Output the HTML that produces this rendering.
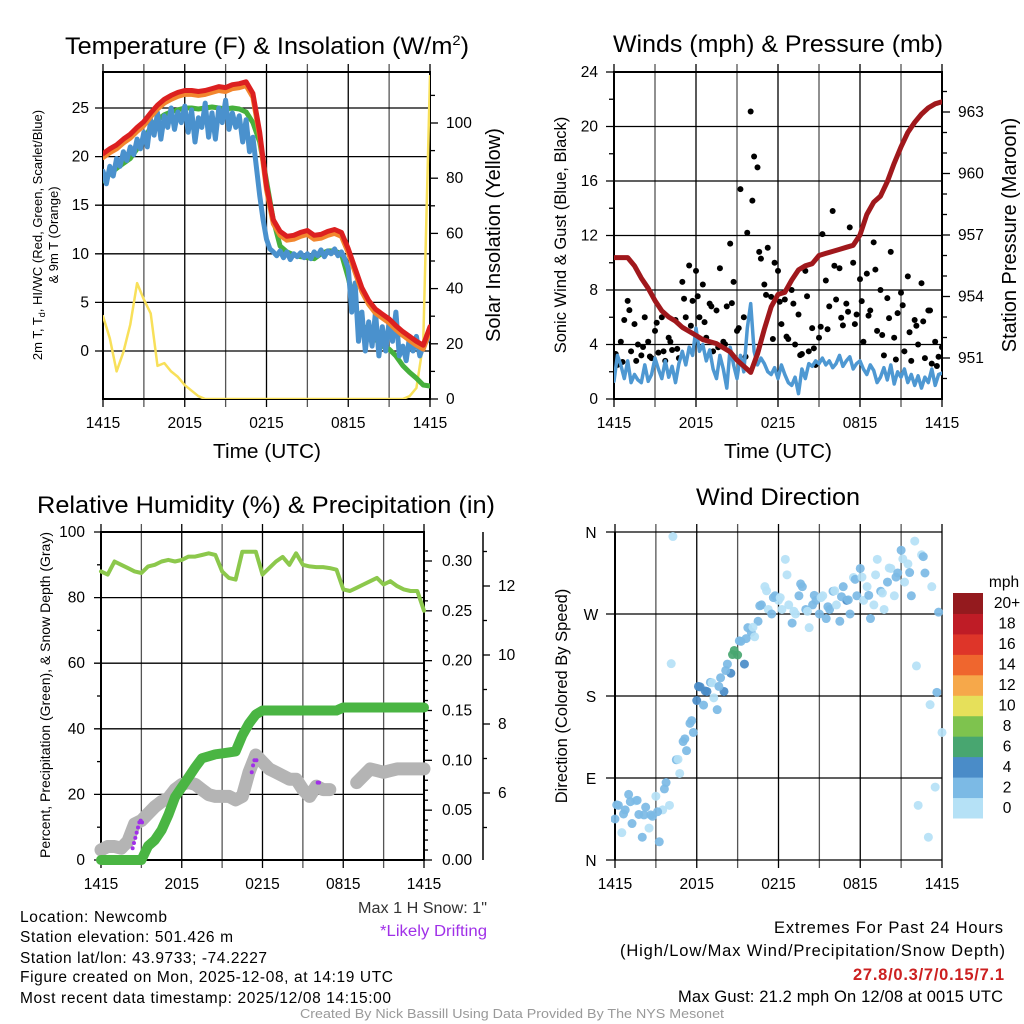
<!DOCTYPE html>
<html><head><meta charset="utf-8"><title>Mesonet Station Summary</title>
<style>
html,body{margin:0;padding:0;background:#fff;}
svg{display:block;font-family:"Liberation Sans",Arial,sans-serif;}
</style></head>
<body>
<svg id="chart" width="1024" height="1024" viewBox="0 0 1024 1024" xmlns="http://www.w3.org/2000/svg">
<rect x="0" y="0" width="1024" height="1024" fill="#fff"/>
<defs>
<clipPath id="cTL"><rect x="103" y="72" width="327" height="327"/></clipPath>
<clipPath id="cTR"><rect x="614" y="72" width="328" height="327"/></clipPath>
<clipPath id="cBL"><rect x="101" y="532" width="323" height="328"/></clipPath>
<clipPath id="cBR"><rect x="611" y="528" width="336" height="336"/></clipPath>
</defs>
<g id="gTL"></g>
<g id="gTR"></g>
<g id="gBL"></g>
<g id="gBR"></g>

<text x="267" y="54" font-size="24" text-anchor="middle" textLength="404" lengthAdjust="spacingAndGlyphs">Temperature (F) &amp; Insolation (W/m<tspan dy="-9" font-size="14">2</tspan><tspan dy="9">)</tspan></text>
<text x="778" y="52" font-size="24" text-anchor="middle" textLength="330" lengthAdjust="spacingAndGlyphs">Winds (mph) &amp; Pressure (mb)</text>
<text x="266" y="513" font-size="24" text-anchor="middle" textLength="458" lengthAdjust="spacingAndGlyphs">Relative Humidity (%) &amp; Precipitation (in)</text>
<text x="778" y="505" font-size="24" text-anchor="middle" textLength="164" lengthAdjust="spacingAndGlyphs">Wind Direction</text>

<text x="267" y="458" font-size="20" text-anchor="middle" textLength="108" lengthAdjust="spacingAndGlyphs">Time (UTC)</text>
<text x="778" y="458" font-size="20" text-anchor="middle" textLength="108" lengthAdjust="spacingAndGlyphs">Time (UTC)</text>

<text transform="translate(42,235) rotate(-90)" font-size="13" text-anchor="middle">2m T, T<tspan dy="3" font-size="9">d</tspan><tspan dy="-3">, HI/WC (Red, Green, Scarlet/Blue)</tspan></text>
<text transform="translate(58,235) rotate(-90)" font-size="13" text-anchor="middle">&amp; 9m T (Orange)</text>
<text transform="translate(500,235) rotate(-90)" font-size="20" text-anchor="middle">Solar Insolation (Yellow)</text>
<text transform="translate(566,235) rotate(-90)" font-size="16.5" text-anchor="middle">Sonic Wind &amp; Gust (Blue, Black)</text>
<text transform="translate(1016,235) rotate(-90)" font-size="20" text-anchor="middle">Station Pressure (Maroon)</text>
<text transform="translate(50,695) rotate(-90)" font-size="14" text-anchor="middle">Percent, Precipitation (Green), &amp; Snow Depth (Gray)</text>
<text transform="translate(567,696) rotate(-90)" font-size="16.5" text-anchor="middle">Direction (Colored By Speed)</text>

<g font-size="15.5" lengthAdjust="spacingAndGlyphs">
<text x="20" y="922" textLength="147">Location: Newcomb</text>
<text x="20" y="942" textLength="213">Station elevation: 501.426 m</text>
<text x="20" y="963" textLength="247">Station lat/lon: 43.9733; -74.2227</text>
<text x="20" y="982" textLength="373">Figure created on Mon, 2025-12-08, at 14:19 UTC</text>
<text x="20" y="1003" textLength="371">Most recent data timestamp: 2025/12/08 14:15:00</text>
</g>
<text x="358" y="913" font-size="15.5" textLength="129" lengthAdjust="spacingAndGlyphs" fill="#333">Max 1 H Snow: 1"</text>
<text x="380" y="936" font-size="15.5" textLength="107" lengthAdjust="spacingAndGlyphs" fill="#a030e8">*Likely Drifting</text>
<g font-size="16.5" lengthAdjust="spacingAndGlyphs">
<text x="774" y="933" textLength="229">Extremes For Past 24 Hours</text>
<text x="620" y="956" textLength="385">(High/Low/Max Wind/Precipitation/Snow Depth)</text>
<text x="853" y="980" textLength="151" font-weight="bold" fill="#cc2020">27.8/0.3/7/0.15/7.1</text>
<text x="678" y="1002" textLength="325">Max Gust: 21.2 mph On 12/08 at 0015 UTC</text>
</g>
<text x="300" y="1018" font-size="12.5" textLength="424" lengthAdjust="spacingAndGlyphs" fill="#999">Created By Nick Bassill Using Data Provided By The NYS Mesonet</text>
</svg>
<script>
// ---- data (step 0.5h unless noted) ----
const timeLabels = ["1415","2015","0215","0815","1415"];
const redT = [20.3,20.8,21.2,21.8,22.3,23,23.6,24.5,25.3,25.9,26.3,26.6,26.8,26.8,26.7,26.8,27,27.2,27.1,27.4,27.5,27.7,26.5,22.5,17,13.5,12.3,11.8,11.9,12.2,12.4,11.9,12,12.3,12.5,12.2,10.5,8.5,6.5,5.2,4.3,3.8,3.3,2.6,2,1.5,1,0.6,2.5];
const orangeT = [19.9,20.4,20.8,21.4,21.9,22.6,23.2,24.1,24.9,25.5,25.9,26.2,26.4,26.4,26.3,26.4,26.6,26.8,26.7,27,27.1,27.3,26.1,22.1,16.6,13.1,11.9,11.4,11.5,11.8,12,11.5,11.6,11.9,12.1,11.8,10.1,8.1,6.1,4.8,3.9,3.4,2.9,2.2,1.6,1.1,0.6,0.2,2.1];
const greenT = [17.5,18.2,18.8,19.3,19.8,20.8,21.8,23,23.8,24.3,24.6,24.8,25,25,24.9,25,25.1,25,24.9,25,24.9,24.6,23.5,21.5,17.5,13.5,10.8,10.2,9.9,9.7,9.6,9.5,10,10.3,10.3,10,7.5,4.5,2.8,1.8,1.2,0.5,0.2,-0.5,-1.5,-2.2,-2.8,-3.5,-3.6];
// step 0.25h
const blueT = [18.5,17.2,19,18,19.8,19,20.5,19.6,21,20.2,21.8,20.8,
 22.5,21,23.8,22.2,24.5,21.8,24.2,23,25,22.8,24.6,23.5,
 25.2,22.5,24.8,21.5,24,23,25.5,22,24.5,21.8,25,23.5,
 25.8,22.8,24.5,23,24.2,21.5,23.8,20.5,22,19,16,13.5,
 11.5,10.5,10.2,9.8,10.3,9.6,10.2,9.4,10,9.7,10.1,9.6,
 10,9.5,10.2,9.8,10.4,9.7,10.3,10,10.5,9.8,10.2,9.5,
 8.5,4,7,1,4,0,3,0.5,4,-0.5,2.5,0,
 3,1,4,-0.5,0.5,-1,1.5,0,1.5,-0.5,0.5,1,1.5];
const insolation = [30,22,10,17,27,42,36,31,12,13,10,8,5,3,1,0,0,0,0,0,0,0,0,0,0,0,0,0,0,0,0,0,0,0,0,0,0,0,0,0,0,0,0,0,0,1,4,20,117];
const tempTicks = [0,5,10,15,20,25];
const insolTicks = [0,20,40,60,80,100];
// winds step 0.25h
const windSpeed = [1.3,3.2,2.5,1.5,2.8,1.2,1.8,1.4,1.2,2.5,1.3,1.8,
 3,2.2,1.5,2.8,1.6,2.4,1.2,2.6,3.5,2.5,3.8,3.2,
 5.2,3.5,4,2.8,3.6,2.2,1.5,3.2,2.2,0.8,3.8,2.5,
 1.5,3.2,2,5.2,7,3.5,2.5,3,2.6,2,1.8,2.3,
 1.5,2.5,1.8,1.2,1,1.6,0.4,2.2,1.5,2.6,2.4,2.8,
 2.6,3,2.5,2.8,2.3,2.6,3.2,2.4,2.8,3.1,2.2,2.6,
 2.8,2.2,1.8,2.5,2.1,1.2,1.6,2.3,1.4,2.5,1.1,2,
 1.6,2.2,1.2,1.8,1,1.7,0.8,1.6,1.2,2.2,1,1.8,1.9];
const windGust = [3,2.5,4.2,5.8,7.2,3.5,5.5,4,3.2,6,4.2,3,
 5,3.4,6,2.8,4.5,3.6,5.8,3,8.6,6,9.8,7.2,
 9.4,6,8.4,4.5,7,3.5,6.5,9.6,4.2,6.8,11.4,8.6,
 5,15.4,6,12.2,21.1,17.8,17,10.3,8.4,11.1,7.5,10,
 9.4,5.5,7.3,4.4,8,4,6.2,3.3,9.4,3.5,5.2,2.5,
 4.5,12.1,8.7,6.8,13.8,7.3,9.6,5.4,7,12.6,10,6.2,
 8.8,4.2,9.2,6.5,11.5,5,8,3.2,7.4,10.8,4.5,6.3,
 7.8,3.5,9,2.8,5.8,4,8.5,3,6.5,2.6,4.2,3.1,3.8];
const gustOffsets = [0.5,-0.8,1.2,-1.5,0.9,-0.4,1.6,-1.1];
const pressure = [955.9,955.9,955.9,955.5,954.9,954.4,953.8,953.3,953.0,952.8,952.5,952.3,952.1,951.9,951.8,951.7,951.5,951.3,950.9,950.6,950.3,951.2,952.4,953.5,954.1,954.2,954.8,955.3,955.5,955.6,956.0,956.1,956.2,956.3,956.4,956.5,957.0,958.0,958.6,958.9,959.6,960.5,961.3,962.0,962.5,962.9,963.2,963.4,963.5];
const windTicks = [0,4,8,12,16,20,24];
const pressTicks = [951,954,957,960,963];
// humidity / precip / snow (step 0.5h)
const rh = [88,87,91,90,89,88,87.5,89.5,90,91,91.5,91,91.5,92.5,92.5,93,93.5,93,88,86,85.5,94,94,94,87,89,91,92.4,90,93.5,90,89.5,89.3,89.3,89,88.5,82.5,82,83,84,85,86,84,85,83.5,82.5,82,82,76];
const precip = [0,0,0,0,0,0,0,0.014,0.02,0.03,0.045,0.063,0.073,0.083,0.093,0.102,0.104,0.106,0.107,0.108,0.109,0.125,0.137,0.146,0.15,0.15,0.15,0.15,0.15,0.15,0.15,0.15,0.15,0.15,0.15,0.15,0.153,0.153,0.153,0.153,0.153,0.153,0.153,0.153,0.153,0.153,0.153,0.153,0.153];
const snow = [4.35,4.45,4.45,4.4,4.6,5.1,5.2,5.4,5.6,5.75,5.85,6.1,6.25,6.3,6.25,6.1,5.95,5.9,5.9,5.9,5.8,5.9,6.6,7.1,6.9,6.7,6.6,6.5,6.4,6.4,6.1,5.9,6.2,6.1,6.1,null,null,null,6.3,6.5,6.7,6.65,6.6,6.65,6.7,6.7,6.7,6.7,6.7];
const driftT = [2.35,2.45,2.55,2.65,2.75,2.85,2.95,3.05,11.2,11.3,11.4,11.55,16.1,16.2];
const driftS = [4.4,4.55,4.7,4.85,5.0,5.15,5.2,5.15,6.6,6.8,6.95,6.95,6.3,6.3];
const pctTicks = [0,20,40,60,80,100];
const precipTicks = ["0.00","0.05","0.10","0.15","0.20","0.25","0.30"];
const snowTicks = [6,8,10,12];
// wind direction (step 0.25h)
const windDir = [45,60,30,55,72,40,65,50,25,58,35,48,
 70,20,55,85,60,355,110,95,130,120,150,140,
 175,190,170,185,195,178,165,200,185,215,205,230,
 225,240,215,255,250,245,262,280,300,275,270,290,
 285,275,330,280,260,270,290,300,275,255,280,285,
 270,290,265,275,295,280,262,300,285,270,310,290,
 320,285,300,265,280,330,295,275,305,320,290,315,
 340,305,325,290,350,60,335,315,25,300,80,272,140];
const dirSpeed = [2.5,3,1.5,2.8,3.2,2.6,1.2,3,2.4,2.8,1.5,3,
 1,2.5,0.5,2.8,1.5,0.5,3,1.8,2.6,3,2.4,2.8,
 4.5,4.2,3,4.8,2.6,1.5,3.5,2.8,4.2,2.5,4.6,6.5,
 7,2.5,4.3,3,2.6,1.5,2.8,3,1,1.5,2.4,3,
 1.2,0.8,0.5,1.8,2.8,1,3,2.5,2.6,1.5,2.8,3,
 2.6,1.5,2.8,3,2.2,1,2.5,3,4.3,2.6,1.5,2.8,
 2.5,1.8,0.8,2.6,1.5,0.5,2.8,1.2,3.2,1.6,0.6,2.5,
 2.8,1.5,0.5,2.6,1.2,1.5,0.8,2.7,1.4,0.5,1.5,2.6,1];
const dirLabels = ["N","E","S","W","N"];
const speedLabels = ["0","2","4","6","8","10","12","14","16","18","20+"];
const speedColors = ["#b5e1f6","#7cbae5","#4a8cc8","#48a670","#7ec34e","#e6e05a","#f6a84a","#ef662e","#de3529","#bf1c26","#941a1e"];

// ---- scales ----
const xTL = h => 103 + h*327/24;
const yT = v => 351 - v*9.72;
const yI = v => 399 - v*2.76;
const xTR = h => 614 + h*328/24;
const yW = v => 399 - v*327/24;
const yP = p => 358 - (p-951)*20.5;
const xBL = h => 101 + h*323/24;
const yRH = v => 860 - v*3.28;
const yPr = v => 860 - v*996.7;
const ySn = s => 793 - (s-6)*34.5;
const xBR = h => 615 + h*327/24;
const yD = d => 860 - d*328/360;

const NS = "http://www.w3.org/2000/svg";
function mk(tag, attrs, parent){
  const e = document.createElementNS(NS, tag);
  for (const k in attrs) e.setAttribute(k, attrs[k]);
  parent.appendChild(e);
  return e;
}
function linePath(arr, step, fx, fy){
  let d = "", pen = false;
  arr.forEach((v,i)=>{
    if (v === null){ pen = false; return; }
    d += (pen ? "L" : "M") + fx(i*step).toFixed(1) + "," + fy(v).toFixed(1);
    pen = true;
  });
  return d;
}
const gTL = document.getElementById("gTL");
const gTR = document.getElementById("gTR");
const gBL = document.getElementById("gBL");
const gBR = document.getElementById("gBR");

function vgrid(g, fx, y0, y1, top){
  for (let k=0;k<=8;k++){
    const x = fx(k*3);
    const l = mk("line",{x1:x,y1:top?y0-8:y0,x2:x,y2:y1+8,stroke:k%2?"#555":"#000","stroke-width":1.3},g);
    
    
  }
  timeLabels.forEach((t,i)=>{
    const tx = mk("text",{x:fx(i*6),y:y1+29,"font-size":15.5,"text-anchor":"middle"},g);
    tx.textContent = t;
    
    
  });
}
function hline(g, x0, x1, y, color){
  const l = mk("line",{x1:x0,y1:y,x2:x1,y2:y,stroke:color||"#000","stroke-width":1.3},g);
  
  
}
function label(g, x, y, txt, anchor, size, name){
  const t = mk("text",{x:x,y:y,"font-size":size||15.5,"text-anchor":anchor||"start"},g);
  t.textContent = txt;
  
  
  return t;
}

// ================= TOP-LEFT =================
vgrid(gTL, xTL, 72, 399, true);
tempTicks.forEach(v=>{ hline(gTL, 95, 430, yT(v)); label(gTL, 89, yT(v)+5, String(v), "end", 15.5, "temp-tick-label"); });
insolTicks.forEach(v=>{ hline(gTL, 430, 438, yI(v)); label(gTL, 446, yI(v)+5, String(v), "start", 15.5, "insolation-tick-label"); });
[10,30,50,70,90,110].forEach(v=>{ hline(gTL, 430, 435, yI(v)); });
(function(){
  const f = mk("rect",{x:103,y:72,width:327,height:327,fill:"none",stroke:"#000","stroke-width":2},gTL);
  
  
  const c = mk("g",{"clip-path":"url(#cTL)",fill:"none","stroke-linejoin":"round","stroke-linecap":"round"},gTL);
  
  
  const p1 = mk("path",{d:linePath(insolation,0.5,xTL,yI),stroke:"#f8e05a","stroke-width":2.5},c);
  
  
  const p2 = mk("path",{d:linePath(greenT,0.5,xTL,yT),stroke:"#46b03c","stroke-width":5},c);
  
  
  const p3 = mk("path",{d:linePath(blueT,0.25,xTL,yT),stroke:"#4a91cd","stroke-width":5},c);
  
  
  const p4 = mk("path",{d:linePath(orangeT,0.5,xTL,yT),stroke:"#f2862e","stroke-width":5},c);
  
  
  const p5 = mk("path",{d:linePath(redT,0.5,xTL,yT),stroke:"#dc2020","stroke-width":5},c);
  
  
})();

// ================= TOP-RIGHT =================
vgrid(gTR, xTR, 72, 399, true);
windTicks.forEach(v=>{ hline(gTR, 606, 942, yW(v)); label(gTR, 598, yW(v)+5, String(v), "end", 15.5, "wind-tick-label"); });
[2,6,10,14,18,22].forEach(v=>{ hline(gTR, 609, 614, yW(v)); });
pressTicks.forEach(v=>{ hline(gTR, 942, 950, yP(v)); label(gTR, 958, yP(v)+5, String(v), "start", 15.5, "pressure-tick-label"); });
[950,952,953,955,956,958,959,961,962,964].forEach(v=>{ hline(gTR, 942, 947, yP(v)); });
(function(){
  const f = mk("rect",{x:614,y:72,width:328,height:327,fill:"none",stroke:"#000","stroke-width":2},gTR);
  
  
  const c = mk("g",{"clip-path":"url(#cTR)","stroke-linejoin":"round","stroke-linecap":"round"},gTR);
  
  
  windGust.forEach((v,i)=>{
    const d = mk("circle",{cx:xTR(i*0.25),cy:yW(v),r:3,fill:"#000"},c);
    
    
  });
  windGust.forEach((v,i)=>{
    if (i%2) return;
    const o = gustOffsets[(i/2)%gustOffsets.length];
    const d = mk("circle",{cx:xTR(i*0.25+0.125),cy:yW(Math.max(1.5,v*0.6+o+1)),r:3,fill:"#000"},c);
    
    
  });
  const w = mk("path",{d:linePath(windSpeed,0.25,xTR,yW),stroke:"#4e98d2","stroke-width":3.5,fill:"none"},c);
  
  
  const p = mk("path",{d:linePath(pressure,0.5,xTR,yP),stroke:"#a0181c","stroke-width":5,fill:"none"},c);
  
  
})();

// ================= BOTTOM-LEFT =================
vgrid(gBL, xBL, 532, 860, true);
pctTicks.forEach(v=>{ hline(gBL, 94, 424, yRH(v)); label(gBL, 85, yRH(v)+5, String(v), "end", 15.5, "percent-tick-label"); });
[10,30,50,70,90].forEach(v=>{ hline(gBL, 97, 101, yRH(v)); });
precipTicks.forEach(v=>{ hline(gBL, 424, 432, yPr(+v)); label(gBL, 442, yPr(+v)+5, v, "start", 15.5, "precip-tick-label"); });
for (let k=1;k<32;k++){ if (k%5) hline(gBL, 424, 428, yPr(k*0.01)); }
(function(){
  const ax = mk("line",{x1:483,y1:532,x2:483,y2:860,stroke:"#000","stroke-width":1.5},gBL);
  
  
})();
snowTicks.forEach(v=>{ hline(gBL, 483, 490, ySn(v)); label(gBL, 498, ySn(v)+5, String(v), "start", 15.5, "snow-tick-label"); });
[5,7,9,11,13].forEach(v=>{ hline(gBL, 483, 487, ySn(v)); });
(function(){
  const f = mk("rect",{x:101,y:532,width:323,height:328,fill:"none",stroke:"#000","stroke-width":2},gBL);
  
  
  const c = mk("g",{"stroke-linejoin":"round","stroke-linecap":"round",fill:"none"},gBL);
  
  
  const s = mk("path",{d:linePath(snow,0.5,xBL,ySn),stroke:"#b4b4b4","stroke-width":13},c);
  
  
  const pr = mk("path",{d:linePath(precip,0.5,xBL,yPr),stroke:"#4ab543","stroke-width":10},c);
  
  
  const r = mk("path",{d:linePath(rh,0.5,xBL,yRH),stroke:"#8cc84c","stroke-width":4},c);
  
  
  driftT.forEach((t,i)=>{
    const d = mk("circle",{cx:xBL(t),cy:ySn(driftS[i]),r:2,fill:"#a030e8"},c);
    
    
  });
})();

// ================= BOTTOM-RIGHT =================
vgrid(gBR, xBR, 532, 860, true);
dirLabels.forEach((t,i)=>{ hline(gBR, 606, 942, yD(i*90)); label(gBR, 591, yD(i*90)+6, t, "middle", 15.5, "direction-tick-label"); });
(function(){
  const ax = mk("line",{x1:615,y1:532,x2:615,y2:860,stroke:"#000","stroke-width":2},gBR);
  
  
  const c = mk("g",{"clip-path":"url(#cBR)"},gBR);
  
  
  windDir.forEach((d,i)=>{
    const bin = Math.min(10, Math.floor(dirSpeed[i]/2));
    const p = mk("circle",{cx:xBR(i*0.25),cy:yD(d),r:4.5,fill:speedColors[bin],"fill-opacity":0.92},c);
    
    
  });
  windDir.forEach((d,i)=>{
    if (i%2 || i+1>=windDir.length) return;
    const bin = Math.min(10, Math.floor(dirSpeed[i+1]/2));
    const p = mk("circle",{cx:xBR(i*0.25+0.125),cy:yD((d+windDir[i+1])/2+8),r:4.5,fill:speedColors[bin],"fill-opacity":0.92},c);
    
    
  });
  const cb = mk("g",{},gBR);
  
  
  const binH = 225/11;
  speedColors.forEach((col,i)=>{
    const y = 818 - (i+1)*binH;
    const r = mk("rect",{x:953,y:y,width:30,height:binH+0.5,fill:col},cb);
    
    
    label(cb, 1007, y+binH/2+5, speedLabels[i], "middle", 15.5, "colorbar-label");
  });
  label(cb, 1004, 587, "mph", "middle", 15.5, "colorbar-unit");
})();
</script>
</body></html>
